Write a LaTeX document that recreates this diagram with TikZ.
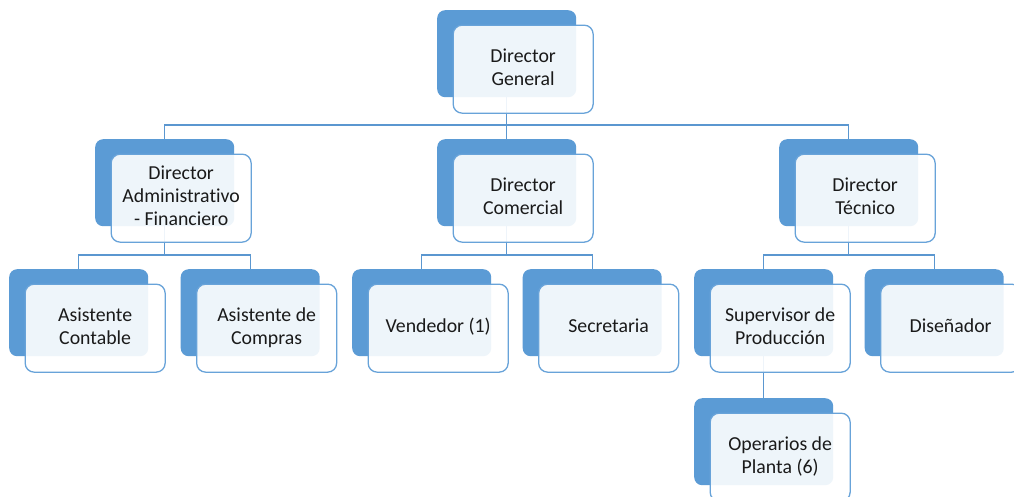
\documentclass[tikz,border=0pt]{standalone}
\usepackage{fontspec}
\setmainfont{Carlito}[Ligatures=NoCommon]
\usetikzlibrary{backgrounds}
\definecolor{obBlue}{HTML}{5B9BD5}
\definecolor{obEdge}{HTML}{68A3D9}
\definecolor{obLine}{HTML}{5B97D0}
\definecolor{obText}{HTML}{1A1A1A}
\tikzset{
  backbox/.style={draw=none, fill=obBlue, rounded corners=8pt, inner sep=0pt,
    minimum width=139pt, minimum height=87pt, anchor=north west},
  frontbox/.style={draw=obEdge, line width=1.3pt, fill=white, fill opacity=0.9, text opacity=1,
    rounded corners=9pt, inner sep=0pt, minimum width=140pt, minimum height=88pt,
    anchor=north west, align=center, text=obText,
    font=\fontsize{19.8}{23}\selectfont},
  conn/.style={draw=obLine, line width=1.25pt}
}
\newcommand\obox[4]{%
  \node[backbox] (#1b) at (#2,#3) {};
  \node[frontbox] (#1) at (#2+15.5,#3+14.5) {\raisebox{1.5pt}{\begin{tabular}{@{}c@{}}#4\end{tabular}}};
}
\newcommand\oconn[2]{%
  \draw[conn] (#1b.south) |- ([yshift=14pt]#2b.north) -- (#2b.north);
}
\begin{document}
\begin{tikzpicture}[x=1pt,y=-1pt]
\useasboundingbox (0,0) rectangle (1014,496);
\obox{DG}{437}{10}{Director\\General}
\obox{DA}{95}{139}{Director\\Administrativo\\- Financiero}
\obox{DC}{437}{139}{Director\\Comercial}
\obox{DT}{779}{139}{Director\\Técnico}
\obox{AC}{9}{269}{Asistente\\Contable}
\obox{ACo}{180.5}{269}{Asistente de\\Compras}
\obox{V}{352}{269}{Vendedor (1)}
\obox{S}{522.5}{269}{Secretaria}
\obox{SP}{694}{269}{Supervisor de\\Producción}
\obox{D}{864.5}{269}{Diseñador}
\obox{OP}{694}{398}{Operarios de\\Planta (6)}
\begin{scope}[on background layer]
\fill[white] (0,0) rectangle (1014,496);
\oconn{DG}{DA}
\oconn{DG}{DC}
\oconn{DG}{DT}
\oconn{DA}{AC}
\oconn{DA}{ACo}
\oconn{DC}{V}
\oconn{DC}{S}
\oconn{DT}{SP}
\oconn{DT}{D}
\draw[conn] (SPb.south) -- (OPb.north);
\end{scope}
\end{tikzpicture}
\end{document}
